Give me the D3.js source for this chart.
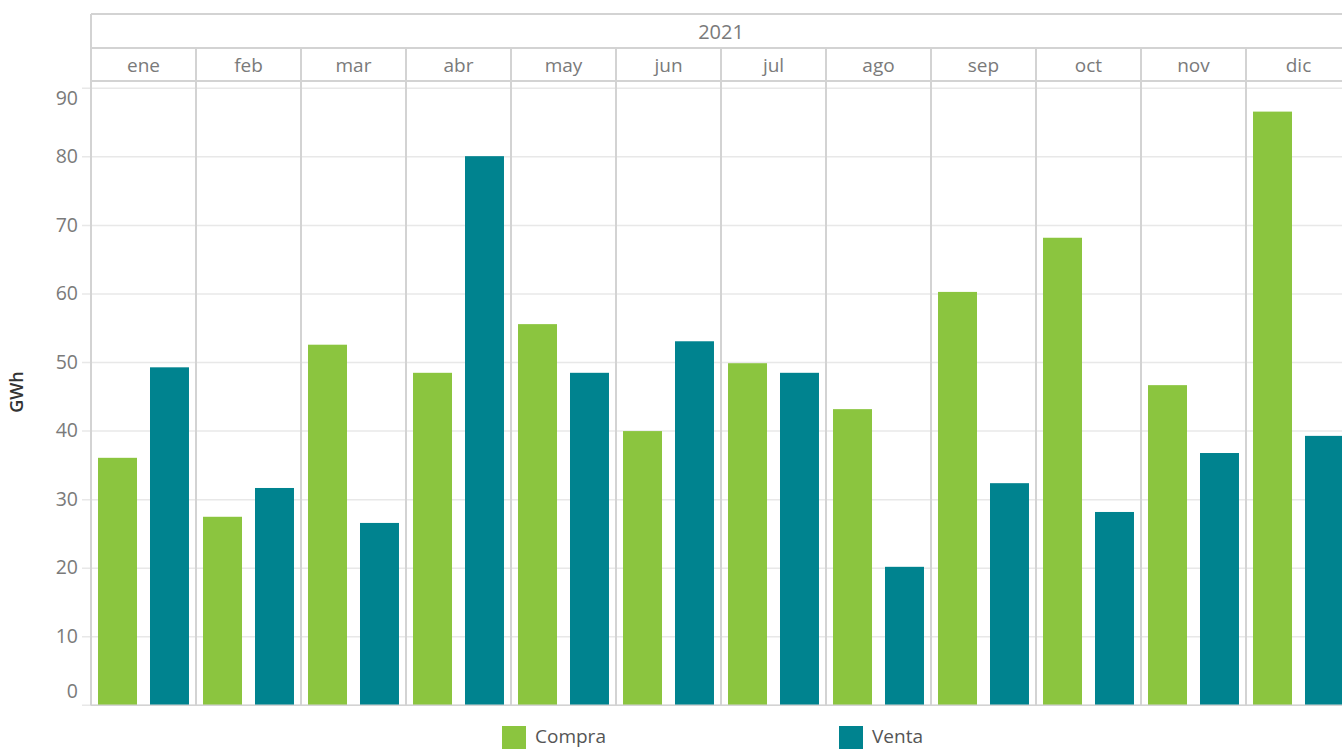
<!DOCTYPE html>
<html><head><meta charset="utf-8">
<script src="https://cdn.jsdelivr.net/npm/d3@7"></script>
<style>body{margin:0;background:#fff;overflow:hidden}svg{display:block;font-family:"Open Sans",sans-serif}</style>
</head><body><svg id="c" width="1342" height="749"></svg>
<script>
const year = "2021";
const months = ["ene","feb","mar","abr","may","jun","jul","ago","sep","oct","nov","dic"];
const series = ["Compra","Venta"];
const compra = [36.1,27.5,52.6,48.5,55.6,40.0,49.9,43.2,60.3,68.2,46.7,86.6];
const venta  = [49.3,31.7,26.6,80.1,48.5,53.1,48.5,20.2,32.4,28.2,36.8,39.3];
const yTicks = [0,10,20,30,40,50,60,70,80,90];
const colors = {Compra:"#8BC53F", Venta:"#00838F"};

(function(){
const svg = d3.select("#c");
const pL = 91, pR = 1351, pT = 88.3, pB = 705.3;
const x = d3.scaleBand().domain(months).range([pL, pR]).padding(0);
const xs = d3.scaleBand().domain(series).range([0, x.bandwidth()]).paddingInner(0.25).paddingOuter(0.135);
const y = d3.scaleLinear().domain([0,90]).range([pB, pT]);
const line = "#d3d3d3";

svg.append("g").selectAll("line").data(yTicks).join("line")
  .attr("x1", 82).attr("x2", pR).attr("y1", d=>y(d)).attr("y2", d=>y(d))
  .attr("stroke", "#e8e8e8").attr("stroke-width", 1.5);

svg.append("g").selectAll("text").data(yTicks).join("text")
  .attr("x", 78).attr("y", d => d===90 ? y(d)+11 : d===0 ? y(d)-13 : y(d)+1)
  .attr("text-anchor","end").attr("dominant-baseline","middle")
  .attr("fill","#7a7a7a").attr("font-size",19.5).text(d=>d);

const data = months.map((m,i)=>({m, Compra:compra[i], Venta:venta[i]}));
const g = svg.append("g");
data.forEach(d=>{
  series.forEach(s=>{
    g.append("rect").attr("x", x(d.m)+xs(s)).attr("width", xs.bandwidth())
      .attr("y", y(d[s])).attr("height", y(0)-y(d[s])).attr("fill", colors[s]);
  });
});

svg.append("g").selectAll("line").data(months).join("line")
  .attr("x1", d=>x(d)).attr("x2", d=>x(d)).attr("y1", 48).attr("y2", pB)
  .attr("stroke", line).attr("stroke-width", 2);
svg.append("line").attr("x1",pL).attr("x2",pL).attr("y1",14).attr("y2",pB).attr("stroke",line).attr("stroke-width",2);
[14,48,81].forEach(yy=>svg.append("line").attr("x1",pL).attr("x2",pR).attr("y1",yy).attr("y2",yy).attr("stroke",line).attr("stroke-width",2));
svg.append("line").attr("x1",pL).attr("x2",pR).attr("y1",pB).attr("y2",pB).attr("stroke",line).attr("stroke-width",1.5);

svg.append("text").attr("x", (pL+pR)/2).attr("y", 34).attr("text-anchor","middle").attr("dominant-baseline","middle")
  .attr("fill","#7a7a7a").attr("font-size",20).text(year);
svg.append("g").selectAll("text").data(months).join("text")
  .attr("x", d=>x(d)+x.bandwidth()/2).attr("y", 67).attr("text-anchor","middle").attr("dominant-baseline","middle")
  .attr("fill","#7a7a7a").attr("font-size",19).text(d=>d);

svg.append("text").attr("transform","translate(18,392) rotate(-90)").attr("text-anchor","middle").attr("dominant-baseline","middle")
  .attr("fill","#333").attr("font-size",18).attr("font-weight","600").text("GWh");

const lx = {Compra:502, Venta:839};
series.forEach(s=>{
  svg.append("rect").attr("x", lx[s]).attr("y", 726).attr("width",24).attr("height",24).attr("fill",colors[s]);
  svg.append("text").attr("x", lx[s]+33).attr("y", 738).attr("dominant-baseline","middle")
    .attr("fill","#555").attr("font-size",19).text(s);
});
})();
</script></body></html>
